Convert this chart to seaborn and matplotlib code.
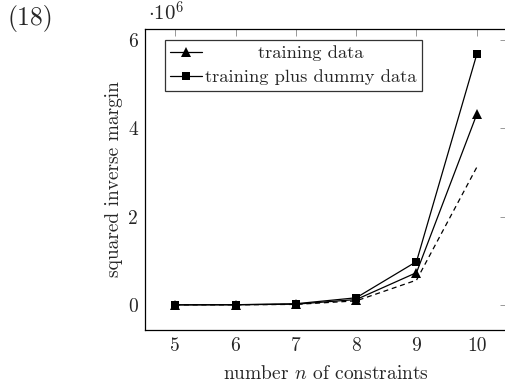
import matplotlib
matplotlib.use("Agg")
import matplotlib.pyplot as plt
import seaborn as sns
import pandas as pd

n_constraints = [5, 6, 7, 8, 9, 10]
training = [0.0, 0.002, 0.015, 0.12, 0.73, 4.32]
training_dummy = [0.0, 0.003, 0.025, 0.16, 0.98, 5.68]
dashed_ref = [0.0, 0.001, 0.01, 0.09, 0.56, 3.12]

sns.set_theme(style="white")
plt.rcParams["font.family"] = ["cmr10", "DejaVu Serif"]
plt.rcParams["mathtext.fontset"] = "cm"
plt.rcParams["axes.formatter.use_mathtext"] = True

fig = plt.figure(figsize=(5.06, 3.82), dpi=100)
ax = fig.add_axes([145 / 506, 1 - 330 / 382, 362 / 506, 301 / 382])

df1 = pd.DataFrame({"n": n_constraints, "v": training})
df2 = pd.DataFrame({"n": n_constraints, "v": training_dummy})
df3 = pd.DataFrame({"n": n_constraints, "v": dashed_ref})

sns.lineplot(data=df1, x="n", y="v", ax=ax, color="black", lw=0.9,
             marker="^", markersize=6.5, markeredgewidth=0, label="training data")
sns.lineplot(data=df2, x="n", y="v", ax=ax, color="black", lw=0.9,
             marker="s", markersize=6.2, markeredgewidth=0, label="training plus dummy data")
sns.lineplot(data=df3, x="n", y="v", ax=ax, color="black", lw=0.9,
             linestyle=(0, (4, 3)), label="_nolegend_")

ax.set_xlim(4.5, 10.5)
ax.set_ylim(-0.57, 6.25)
ax.set_xticks(n_constraints)
ax.set_yticks([0, 2, 4, 6])
ax.set_xticklabels([str(v) for v in n_constraints])
ax.set_yticklabels(["0", "2", "4", "6"])
ax.tick_params(direction="in", length=5, width=0.6, color="#888888",
               top=True, right=True, labelsize=14, pad=5)
for s in ax.spines.values():
    s.set_color("black")
    s.set_linewidth(0.9)

ax.set_xlabel("number $n$ of constraints", fontsize=14, labelpad=7)
ax.set_ylabel("squared inverse margin", fontsize=14, labelpad=4)

fig.text(148 / 506, 1 - 13 / 382, r"$\cdot 10^{6}$", fontsize=15, ha="left", va="center")
fig.text(7 / 506, 1 - 18 / 382, "(18)", fontsize=18.5, ha="left", va="center")

leg = ax.legend(loc="upper left", bbox_to_anchor=(0.055, 0.965), frameon=True,
                fancybox=False, edgecolor="black", fontsize=13.3, handlelength=1.7,
                handletextpad=0.15, borderpad=0.3, labelspacing=0.45, borderaxespad=0)
leg.get_frame().set_linewidth(0.9)

# center the shorter legend label over the longer one, as in the reference
fig.canvas.draw()
r = fig.canvas.get_renderer()
t0, t1 = leg.get_texts()
w0 = t0.get_window_extent(r).width
w1 = t1.get_window_extent(r).width
t0.set_x((w1 - w0) / 2)

fig.savefig("out.png", dpi=100)
